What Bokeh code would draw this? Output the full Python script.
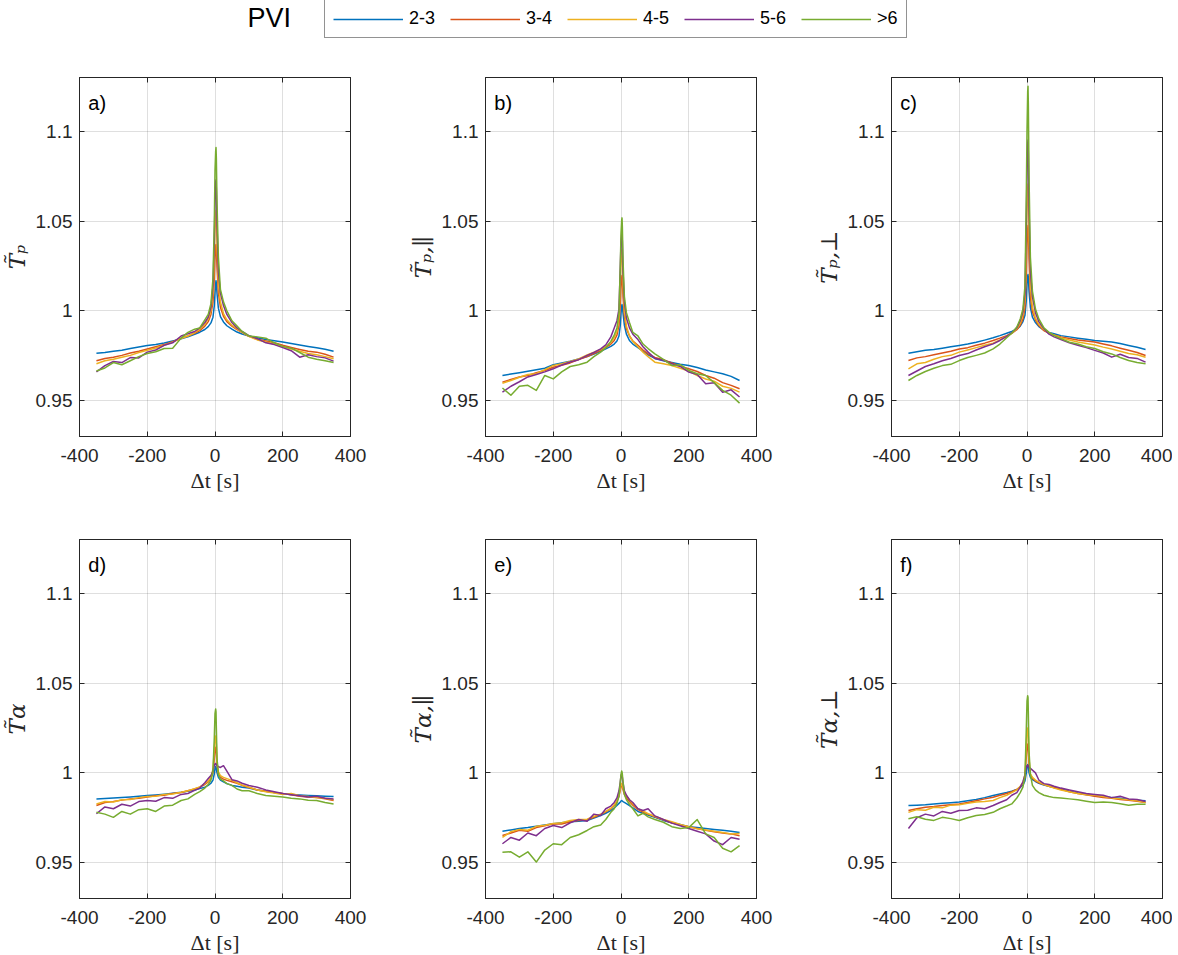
from bokeh.plotting import figure
from bokeh.layouts import column, row
from bokeh.models import (Range1d, FixedTicker, LinearAxis, CustomJSTickFormatter,
                          Label, Legend, LegendItem)
from bokeh.embed import file_html
from bokeh.resources import INLINE

# ---------------- data ----------------
dt = [-350, -325, -300, -275, -250, -225, -200, -175, -150, -125, -100, -80, -60, -45, -30,
      -20, -12, -6, -2, 0, 2, 3, 4, 6, 10, 16, 25, 35, 50, 65, 80, 100, 125, 150, 175, 200,
      225, 250, 275, 300, 325, 350]

series_labels = ["2-3", "3-4", "4-5", "5-6", ">6"]
colors = ["#0072BD", "#D95319", "#EDB120", "#7E2F8E", "#77AC30"]
panel_tags = ["a)", "b)", "c)", "d)", "e)", "f)"]
y_labels = ["T\u0303\u209a", "T\u0303\u209a,\u2225", "T\u0303\u209a,\u22a5",
            "T\u0303\u03b1", "T\u0303\u03b1,\u2225", "T\u0303\u03b1,\u22a5"]
x_label = "\u0394t [s]"
x_ticks = [-400, -200, 0, 200, 400]
y_ticks = [0.95, 1.0, 1.05, 1.1]

# a) T_p
a_blue = [0.9764,0.9768,0.9775,0.9781,0.9790,0.9798,0.9807,0.9813,0.9821,0.9832,0.9844,0.9856,0.9870,0.9881,0.9896,0.9912,0.9933,0.9965,1.0030,1.0100,1.0150,1.0168,1.0152,1.0095,1.0015,0.9968,0.9938,0.9917,0.9898,0.9882,0.9871,0.9860,0.9850,0.9841,0.9833,0.9826,0.9818,0.9810,0.9802,0.9794,0.9786,0.9775]
a_orange = [0.9722,0.9735,0.9742,0.9752,0.9765,0.9775,0.9787,0.9800,0.9812,0.9828,0.9848,0.9860,0.9875,0.9890,0.9915,0.9940,0.9980,1.0050,1.0180,1.0300,1.0360,1.0370,1.0340,1.0240,1.0100,1.0020,0.9970,0.9940,0.9915,0.9895,0.9880,0.9858,0.9842,0.9832,0.9822,0.9808,0.9796,0.9785,0.9775,0.9770,0.9758,0.9742]
a_yellow = [0.9705,0.9722,0.9730,0.9742,0.9752,0.9768,0.9780,0.9793,0.9808,0.9826,0.9846,0.9860,0.9878,0.9898,0.9925,0.9955,1.0000,1.0100,1.0300,1.0460,1.0540,1.0560,1.0520,1.0360,1.0150,1.0050,0.9985,0.9950,0.9920,0.9900,0.9880,0.9858,0.9838,0.9826,0.9815,0.9800,0.9788,0.9775,0.9762,0.9755,0.9745,0.9733]
a_purple = [0.9660,0.9695,0.9718,0.9712,0.9740,0.9738,0.9770,0.9782,0.9808,0.9822,0.9860,0.9872,0.9885,0.9905,0.9935,0.9965,1.0020,1.0140,1.0400,1.0620,1.0720,1.0730,1.0680,1.0480,1.0220,1.0100,1.0030,0.9980,0.9935,0.9905,0.9885,0.9862,0.9845,0.9822,0.9812,0.9795,0.9778,0.9742,0.9755,0.9745,0.9738,0.9720]
a_green = [0.9665,0.9682,0.9712,0.9700,0.9722,0.9745,0.9762,0.9772,0.9790,0.9792,0.9848,0.9880,0.9898,0.9905,0.9950,0.9980,1.0040,1.0180,1.0500,1.0780,1.0890,1.0910,1.0850,1.0600,1.0300,1.0120,1.0050,1.0000,0.9945,0.9915,0.9885,0.9860,0.9855,0.9848,0.9822,0.9802,0.9792,0.9768,0.9742,0.9730,0.9722,0.9712]

# b) T_p,par
b_blue = [0.9640,0.9648,0.9655,0.9663,0.9672,0.9680,0.9700,0.9710,0.9720,0.9732,0.9745,0.9760,0.9775,0.9788,0.9802,0.9815,0.9832,0.9860,0.9920,0.9985,1.0025,1.0035,1.0022,0.9985,0.9920,0.9870,0.9835,0.9815,0.9795,0.9775,0.9755,0.9735,0.9722,0.9712,0.9703,0.9696,0.9684,0.9670,0.9660,0.9650,0.9635,0.9612]
b_orange = [0.9603,0.9618,0.9632,0.9640,0.9655,0.9668,0.9686,0.9697,0.9710,0.9728,0.9745,0.9762,0.9780,0.9795,0.9815,0.9835,0.9865,0.9920,1.0040,1.0140,1.0185,1.0197,1.0175,1.0080,0.9970,0.9900,0.9860,0.9832,0.9808,0.9782,0.9760,0.9740,0.9728,0.9710,0.9692,0.9677,0.9662,0.9640,0.9625,0.9600,0.9585,0.9566]
b_yellow = [0.9597,0.9612,0.9630,0.9645,0.9650,0.9672,0.9696,0.9705,0.9718,0.9732,0.9755,0.9770,0.9785,0.9800,0.9825,0.9850,0.9885,0.9960,1.0150,1.0280,1.0335,1.0340,1.0300,1.0150,1.0000,0.9915,0.9862,0.9830,0.9800,0.9770,0.9745,0.9714,0.9705,0.9695,0.9680,0.9665,0.9640,0.9620,0.9608,0.9580,0.9568,0.9547]
b_purple = [0.9547,0.9580,0.9605,0.9632,0.9645,0.9660,0.9677,0.9698,0.9715,0.9728,0.9752,0.9768,0.9788,0.9810,0.9855,0.9905,0.9945,1.0010,1.0250,1.0380,1.0425,1.0432,1.0390,1.0220,1.0050,0.9960,0.9905,0.9870,0.9840,0.9800,0.9770,0.9735,0.9725,0.9705,0.9690,0.9659,0.9645,0.9594,0.9600,0.9547,0.9560,0.9520]
b_green = [0.9570,0.9530,0.9580,0.9585,0.9557,0.9640,0.9621,0.9660,0.9690,0.9700,0.9714,0.9745,0.9770,0.9795,0.9830,0.9865,0.9905,0.9990,1.0260,1.0430,1.0505,1.0518,1.0470,1.0280,1.0080,0.9990,0.9935,0.9880,0.9860,0.9815,0.9790,0.9760,0.9730,0.9696,0.9700,0.9668,0.9650,0.9640,0.9600,0.9557,0.9530,0.9486]

# c) T_p,perp
c_blue = [0.9764,0.9772,0.9780,0.9785,0.9792,0.9800,0.9807,0.9815,0.9825,0.9837,0.9850,0.9862,0.9875,0.9885,0.9898,0.9915,0.9940,0.9975,1.0060,1.0150,1.0195,1.0202,1.0185,1.0110,1.0020,0.9965,0.9935,0.9912,0.9892,0.9880,0.9872,0.9862,0.9855,0.9848,0.9842,0.9835,0.9830,0.9826,0.9818,0.9807,0.9797,0.9785]
c_orange = [0.9723,0.9738,0.9745,0.9755,0.9765,0.9775,0.9788,0.9795,0.9808,0.9820,0.9835,0.9848,0.9862,0.9875,0.9895,0.9920,0.9955,1.0020,1.0210,1.0380,1.0455,1.0475,1.0440,1.0290,1.0080,0.9995,0.9950,0.9918,0.9890,0.9875,0.9865,0.9855,0.9846,0.9838,0.9832,0.9826,0.9815,0.9805,0.9792,0.9780,0.9768,0.9751]
c_yellow = [0.9677,0.9705,0.9712,0.9730,0.9745,0.9752,0.9770,0.9782,0.9795,0.9808,0.9820,0.9838,0.9858,0.9875,0.9900,0.9930,0.9975,1.0060,1.0350,1.0580,1.0680,1.0706,1.0650,1.0420,1.0140,1.0020,0.9960,0.9925,0.9895,0.9878,0.9865,0.9850,0.9838,0.9826,0.9818,0.9810,0.9798,0.9788,0.9775,0.9762,0.9755,0.9742]
c_purple = [0.9640,0.9665,0.9690,0.9705,0.9722,0.9735,0.9751,0.9762,0.9782,0.9800,0.9816,0.9835,0.9858,0.9878,0.9905,0.9945,0.9995,1.0100,1.0500,1.0800,1.0930,1.0952,1.0880,1.0580,1.0220,1.0080,0.9990,0.9940,0.9900,0.9870,0.9855,0.9840,0.9822,0.9808,0.9795,0.9780,0.9765,0.9742,0.9758,0.9740,0.9735,0.9714]
c_green = [0.9612,0.9640,0.9662,0.9680,0.9695,0.9702,0.9723,0.9740,0.9752,0.9765,0.9788,0.9815,0.9850,0.9875,0.9910,0.9955,1.0010,1.0140,1.0650,1.1000,1.1220,1.1251,1.1150,1.0750,1.0300,1.0110,1.0010,0.9955,0.9905,0.9880,0.9862,0.9845,0.9825,0.9815,0.9800,0.9790,0.9772,0.9760,0.9740,0.9723,0.9712,0.9705]

# d) T_alpha
d_blue = [0.9855,0.9857,0.9860,0.9863,0.9866,0.9870,0.9874,0.9877,0.9881,0.9886,0.9892,0.9898,0.9905,0.9912,0.9920,0.9930,0.9942,0.9960,0.9995,1.0025,1.0035,1.0033,1.0020,1.0000,0.9975,0.9960,0.9950,0.9940,0.9930,0.9925,0.9920,0.9915,0.9905,0.9898,0.9890,0.9884,0.9880,0.9877,0.9874,0.9872,0.9870,0.9868]
d_orange = [0.9818,0.9835,0.9840,0.9848,0.9855,0.9858,0.9865,0.9872,0.9875,0.9885,0.9890,0.9900,0.9910,0.9920,0.9935,0.9950,0.9970,1.0000,1.0080,1.0130,1.0143,1.0140,1.0110,1.0040,0.9995,0.9975,0.9965,0.9958,0.9950,0.9942,0.9930,0.9918,0.9905,0.9898,0.9890,0.9885,0.9878,0.9870,0.9865,0.9862,0.9855,0.9846]
d_yellow = [0.9827,0.9840,0.9838,0.9850,0.9852,0.9862,0.9868,0.9870,0.9880,0.9882,0.9892,0.9900,0.9912,0.9922,0.9940,0.9955,0.9975,1.0020,1.0130,1.0190,1.0205,1.0200,1.0160,1.0060,1.0005,0.9985,0.9975,0.9968,0.9958,0.9945,0.9932,0.9920,0.9905,0.9895,0.9888,0.9880,0.9885,0.9872,0.9868,0.9862,0.9858,0.9850]
d_purple = [0.9772,0.9810,0.9800,0.9825,0.9815,0.9840,0.9846,0.9842,0.9862,0.9858,0.9880,0.9885,0.9902,0.9915,0.9945,0.9968,0.9985,1.0010,1.0040,1.0050,1.0052,1.0050,1.0045,1.0040,1.0035,1.0030,1.0040,1.0010,0.9962,0.9955,0.9942,0.9930,0.9920,0.9905,0.9895,0.9885,0.9878,0.9872,0.9865,0.9870,0.9858,0.9855]
d_green = [0.9780,0.9770,0.9752,0.9785,0.9770,0.9795,0.9800,0.9785,0.9815,0.9820,0.9846,0.9855,0.9880,0.9895,0.9915,0.9935,0.9960,1.0010,1.0200,1.0330,1.0356,1.0340,1.0250,1.0080,0.9990,0.9965,0.9955,0.9940,0.9930,0.9910,0.9900,0.9900,0.9885,0.9874,0.9870,0.9865,0.9858,0.9855,0.9848,0.9846,0.9835,0.9827]

# e) T_alpha,par
e_blue = [0.9675,0.9682,0.9690,0.9695,0.9702,0.9710,0.9716,0.9722,0.9728,0.9730,0.9735,0.9748,0.9762,0.9775,0.9790,0.9805,0.9818,0.9830,0.9838,0.9843,0.9846,0.9845,0.9843,0.9840,0.9835,0.9828,0.9818,0.9805,0.9785,0.9775,0.9765,0.9752,0.9735,0.9722,0.9712,0.9700,0.9695,0.9690,0.9685,0.9680,0.9675,0.9668]
e_orange = [0.9651,0.9665,0.9680,0.9675,0.9695,0.9705,0.9716,0.9715,0.9728,0.9735,0.9738,0.9752,0.9768,0.9782,0.9800,0.9818,0.9840,0.9870,0.9905,0.9925,0.9932,0.9930,0.9925,0.9905,0.9880,0.9860,0.9840,0.9820,0.9795,0.9782,0.9770,0.9755,0.9738,0.9722,0.9710,0.9700,0.9690,0.9680,0.9672,0.9665,0.9660,0.9650]
e_yellow = [0.9640,0.9672,0.9685,0.9680,0.9702,0.9708,0.9718,0.9722,0.9735,0.9740,0.9742,0.9758,0.9770,0.9785,0.9802,0.9822,0.9845,0.9875,0.9912,0.9935,0.9942,0.9940,0.9935,0.9915,0.9892,0.9872,0.9850,0.9828,0.9800,0.9788,0.9772,0.9758,0.9740,0.9728,0.9712,0.9700,0.9688,0.9682,0.9675,0.9668,0.9660,0.9662]
e_purple = [0.9605,0.9640,0.9625,0.9665,0.9650,0.9690,0.9707,0.9695,0.9722,0.9740,0.9730,0.9770,0.9762,0.9800,0.9815,0.9835,0.9860,0.9900,0.9950,0.9985,0.9995,0.9990,0.9975,0.9945,0.9900,0.9875,0.9850,0.9835,0.9800,0.9790,0.9800,0.9760,0.9740,0.9720,0.9705,0.9690,0.9675,0.9660,0.9620,0.9600,0.9640,0.9630]
e_green = [0.9558,0.9560,0.9530,0.9560,0.9503,0.9570,0.9605,0.9600,0.9640,0.9655,0.9679,0.9700,0.9710,0.9740,0.9780,0.9800,0.9830,0.9870,0.9950,0.9990,1.0010,1.0005,0.9990,0.9950,0.9880,0.9850,0.9825,0.9800,0.9760,0.9775,0.9755,0.9740,0.9725,0.9700,0.9690,0.9695,0.9740,0.9660,0.9640,0.9580,0.9560,0.9595]

# f) T_alpha,perp
f_blue = [0.9818,0.9820,0.9822,0.9826,0.9830,0.9833,0.9837,0.9845,0.9852,0.9862,0.9874,0.9882,0.9890,0.9898,0.9908,0.9918,0.9932,0.9955,1.0000,1.0035,1.0046,1.0045,1.0030,1.0000,0.9975,0.9962,0.9952,0.9942,0.9932,0.9925,0.9918,0.9910,0.9898,0.9888,0.9880,0.9872,0.9868,0.9862,0.9858,0.9852,0.9848,0.9845]
f_orange = [0.9790,0.9800,0.9808,0.9812,0.9818,0.9822,0.9827,0.9835,0.9845,0.9855,0.9864,0.9875,0.9885,0.9895,0.9908,0.9922,0.9940,0.9975,1.0090,1.0150,1.0160,1.0155,1.0120,1.0040,0.9990,0.9970,0.9955,0.9945,0.9935,0.9925,0.9918,0.9908,0.9895,0.9885,0.9878,0.9870,0.9862,0.9858,0.9852,0.9848,0.9842,0.9835]
f_yellow = [0.9780,0.9795,0.9792,0.9808,0.9805,0.9820,0.9822,0.9830,0.9838,0.9840,0.9846,0.9862,0.9875,0.9890,0.9905,0.9925,0.9945,0.9990,1.0150,1.0235,1.0250,1.0245,1.0200,1.0080,0.9995,0.9975,0.9960,0.9948,0.9935,0.9925,0.9915,0.9905,0.9895,0.9885,0.9878,0.9875,0.9868,0.9860,0.9855,0.9850,0.9845,0.9835]
f_purple = [0.9690,0.9750,0.9770,0.9760,0.9785,0.9775,0.9790,0.9792,0.9805,0.9800,0.9818,0.9835,0.9850,0.9875,0.9890,0.9920,0.9950,0.9990,1.0030,1.0040,1.0042,1.0040,1.0038,1.0032,1.0025,1.0015,1.0000,0.9960,0.9940,0.9935,0.9925,0.9915,0.9905,0.9895,0.9885,0.9880,0.9875,0.9862,0.9870,0.9855,0.9852,0.9840]
f_green = [0.9744,0.9755,0.9742,0.9735,0.9752,0.9745,0.9735,0.9750,0.9762,0.9768,0.9780,0.9800,0.9815,0.9827,0.9860,0.9890,0.9920,0.9980,1.0250,1.0400,1.0430,1.0420,1.0330,1.0120,0.9990,0.9930,0.9905,0.9890,0.9875,0.9868,0.9862,0.9860,0.9855,0.9850,0.9842,0.9835,0.9838,0.9835,0.9828,0.9820,0.9825,0.9825]

panels = [
    [a_blue, a_orange, a_yellow, a_purple, a_green],
    [b_blue, b_orange, b_yellow, b_purple, b_green],
    [c_blue, c_orange, c_yellow, c_purple, c_green],
    [d_blue, d_orange, d_yellow, d_purple, d_green],
    [e_blue, e_orange, e_yellow, e_purple, e_green],
    [f_blue, f_orange, f_yellow, f_purple, f_green],
]

# ---------------- styling ----------------
AX = "#262626"
TICK_FONT = "Liberation Sans"
FRAME_W, FRAME_H = 271, 359

y_fmt_code = "let s = tick.toFixed(2); s = s.replace(/0+$/, ''); s = s.replace(/\\.$/, ''); return s;"
x_fmt_code = "return tick.toFixed(0);"


def make_panel(idx, mb_left, mb_right, mb_top, mb_bottom):
    p = figure(frame_width=FRAME_W, frame_height=FRAME_H,
               min_border_left=mb_left, min_border_right=mb_right,
               min_border_top=mb_top, min_border_bottom=mb_bottom,
               x_range=Range1d(-400, 400), y_range=Range1d(0.93, 1.13),
               output_backend="svg", toolbar_location=None, tools="")
    p.background_fill_color = "white"
    p.border_fill_color = "white"
    p.outline_line_color = AX
    p.outline_line_width = 1

    # grid
    p.xgrid.ticker = FixedTicker(ticks=x_ticks)
    p.ygrid.ticker = FixedTicker(ticks=y_ticks)
    for g in (p.xgrid[0], p.ygrid[0]):
        g.grid_line_color = AX
        g.grid_line_alpha = 0.15
        g.grid_line_width = 1

    # main axes
    xa = p.xaxis[0]
    xa.ticker = FixedTicker(ticks=x_ticks)
    xa.formatter = CustomJSTickFormatter(code=x_fmt_code)
    ya = p.yaxis[0]
    ya.ticker = FixedTicker(ticks=y_ticks)
    ya.formatter = CustomJSTickFormatter(code=y_fmt_code)
    for ax in (xa, ya):
        ax.axis_line_color = AX
        ax.major_tick_line_color = AX
        ax.major_tick_in = 5
        ax.major_tick_out = 0
        ax.minor_tick_line_color = None
        ax.major_label_text_font = TICK_FONT
        ax.major_label_text_font_size = "19px"
        ax.major_label_text_color = AX
    xa.major_label_standoff = 12
    ya.major_label_standoff = 7

    xa.axis_label = x_label
    xa.axis_label_text_font = "Liberation Serif"
    xa.axis_label_text_font_style = "normal"
    xa.axis_label_text_font_size = "22px"
    xa.axis_label_text_color = AX
    xa.axis_label_standoff = 3

    ya.axis_label = y_labels[idx]
    ya.axis_label_text_font = "DejaVu Serif"
    ya.axis_label_text_font_style = "italic"
    ya.axis_label_text_font_size = "23px"
    ya.axis_label_text_color = AX
    ya.axis_label_standoff = 3

    # mirrored ticks (box on)
    for loc, ticks in (("above", x_ticks), ("right", y_ticks)):
        ax = LinearAxis(ticker=FixedTicker(ticks=ticks),
                        formatter=CustomJSTickFormatter(code="return '';"),
                        major_label_text_font_size="0px", major_label_standoff=0,
                        major_tick_in=5, major_tick_out=0,
                        minor_tick_line_color=None,
                        axis_line_color=AX, major_tick_line_color=AX)
        p.add_layout(ax, loc)

    # curves
    for s, c in zip(panels[idx], colors):
        p.line(dt, s, line_color=c, line_width=1.5, line_join="round")

    # panel tag
    p.add_layout(Label(x=-374, y=1.1158, text=panel_tags[idx],
                       text_font=TICK_FONT, text_font_size="20px",
                       text_baseline="middle", text_align="left", text_color="black"))
    return p


top_row = [make_panel(0, 79, 56, 19, 70), make_panel(1, 79, 56, 19, 70),
           make_panel(2, 79, 10, 19, 70)]
bot_row = [make_panel(3, 79, 56, 33, 52), make_panel(4, 79, 56, 33, 52),
           make_panel(5, 79, 10, 33, 52)]

# ---------------- legend strip ----------------
LEG_W, LEG_H = 1172, 58
leg = figure(frame_width=LEG_W, frame_height=LEG_H, min_border=0,
             x_range=Range1d(0, LEG_W), y_range=Range1d(0, LEG_H),
             output_backend="svg", toolbar_location=None, tools="")
leg.axis.visible = False
leg.grid.visible = False
leg.outline_line_color = None
leg.background_fill_color = "white"
leg.border_fill_color = "white"

nan = float("nan")
items = []
for lab, c in zip(series_labels, colors):
    r = leg.line(x=[nan], y=[nan], line_color=c, line_width=1.5)
    items.append(LegendItem(label=lab, renderers=[r]))

legend = Legend(items=items, location=(324, 20), orientation="horizontal",
                glyph_width=70, glyph_height=20, label_standoff=6, label_width=20,
                label_height=20, spacing=15, padding=8, margin=0,
                border_line_color=AX, border_line_width=1,
                background_fill_color="white", background_fill_alpha=1.0,
                label_text_font=TICK_FONT, label_text_font_size="18px",
                label_text_color="black")
leg.add_layout(legend)
leg.add_layout(Label(x=247, y=41, text="PVI", text_font=TICK_FONT, text_font_size="27px",
                     text_baseline="middle", text_align="left", text_color="black"))

layout = column(leg, row(*top_row), row(*bot_row))

open("out.html", "w").write(file_html(layout, INLINE))
